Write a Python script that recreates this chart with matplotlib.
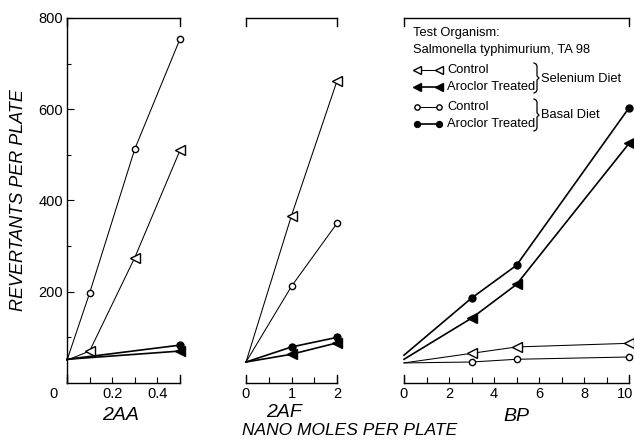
import matplotlib
matplotlib.use('Agg')
import matplotlib.pyplot as plt
from matplotlib.lines import Line2D
from matplotlib.transforms import ScaledTranslation

plt.rcParams['font.family'] = ['Liberation Sans', 'DejaVu Sans']

# ---------------- data ----------------
# 2AA panel
x_2aa = [0, 0.1, 0.3, 0.5]
x_2aa_aro = [0, 0.5]
aa_se_ctrl = [50, 70, 275, 510]
aa_basal_ctrl = [50, 197, 513, 754]
aa_se_aro = [52, 70]
aa_basal_aro = [52, 83]

# 2AF panel
x_2af = [0, 1, 2]
af_se_ctrl = [46, 367, 662]
af_basal_ctrl = [46, 212, 350]
af_se_aro = [46, 63, 88]
af_basal_aro = [46, 79, 100]

# BP panel
x_bp = [0, 3, 5, 10]
bp_se_ctrl = [44, 65, 79, 87]
bp_basal_ctrl = [44, 46, 52, 57]
bp_se_aro = [52, 142, 216, 525]
bp_basal_aro = [61, 186, 258, 603]

panel_names = ['2AA', '2AF', 'BP']
y_ticks = [200, 400, 600, 800]
y_labels = ['200', '400', '600', '800']

# ---------------- figure ----------------
W, H = 634, 444
fig = plt.figure(figsize=(W / 100, H / 100), dpi=100)


def rect(x0, x1, top=18, bottom=383):
    return [x0 / W, 1 - bottom / H, (x1 - x0) / W, (bottom - top) / H]


ax1 = fig.add_axes(rect(67, 180))
ax2 = fig.add_axes(rect(246, 337))
ax3 = fig.add_axes(rect(404, 629))

STY = {
    'se_ctrl': dict(marker='<', mfc='white', mec='black', ms=6.5, mew=1.0, lw=0.75, color='black'),
    'se_aro': dict(marker='<', mfc='black', mec='black', ms=6.5, mew=1.0, lw=1.2, color='black'),
    'basal_ctrl': dict(marker='o', mfc='white', mec='black', ms=4.5, mew=1.0, lw=0.75, color='black'),
    'basal_aro': dict(marker='o', mfc='black', mec='black', ms=5, mew=1.0, lw=1.2, color='black'),
}


def plot_series(ax, x, y, key):
    ax.plot(x, y, markevery=slice(1, None), clip_on=False, **STY[key])


plot_series(ax1, x_2aa, aa_basal_ctrl, 'basal_ctrl')
plot_series(ax1, x_2aa, aa_se_ctrl, 'se_ctrl')
plot_series(ax1, x_2aa_aro, aa_basal_aro, 'basal_aro')
plot_series(ax1, x_2aa_aro, aa_se_aro, 'se_aro')

plot_series(ax2, x_2af, af_se_ctrl, 'se_ctrl')
plot_series(ax2, x_2af, af_basal_ctrl, 'basal_ctrl')
plot_series(ax2, x_2af, af_basal_aro, 'basal_aro')
plot_series(ax2, x_2af, af_se_aro, 'se_aro')

plot_series(ax3, x_bp, bp_basal_aro, 'basal_aro')
plot_series(ax3, x_bp, bp_se_aro, 'se_aro')
plot_series(ax3, x_bp, bp_se_ctrl, 'se_ctrl')
plot_series(ax3, x_bp, bp_basal_ctrl, 'basal_ctrl')


def style(ax, xmax, majors, minors, yaxis=False):
    ax.set_xlim(0, xmax)
    ax.set_ylim(0, 800)
    ax.spines['right'].set_visible(False)
    ax.spines['left'].set_visible(yaxis)
    for s in ax.spines.values():
        s.set_linewidth(1.0)
    ax.set_xticks(majors)
    ax.set_xticks(minors, minor=True)
    ax.tick_params(axis='x', which='both', direction='in', length=4, width=0.8,
                   labelsize=10.5, pad=3)
    if yaxis:
        ax.set_yticks(y_ticks)
        ax.set_yticklabels(y_labels)
        ax.set_yticks(list(range(100, 800, 200)), minor=True)
        ax.tick_params(axis='y', which='major', direction='in', length=5, width=0.8,
                       labelsize=10.5, pad=3)
        ax.tick_params(axis='y', which='minor', direction='in', length=3, width=0.8)
    else:
        ax.set_yticks([])
    # taller end ticks (bottom up, top down)
    h = 8 / 365
    for xe in (0, xmax):
        ax.axvline(xe, ymin=0, ymax=h, color='black', lw=1.0, clip_on=False)
        ax.axvline(xe, ymin=1 - h, ymax=1, color='black', lw=1.0, clip_on=False)


style(ax1, 0.5, [0, 0.2, 0.4], [0.1, 0.3, 0.5], yaxis=True)
ax1.set_xticklabels(['0', '0.2', '0.4'])
style(ax2, 2, [0, 1, 2], [0.5, 1.5])
style(ax3, 10, [0, 2, 4, 6, 8, 10], [1, 3, 5, 7, 9])

# shift the origin label of panel 1 to the left
lab0 = ax1.xaxis.get_major_ticks()[0].label1
lab0.set_transform(lab0.get_transform() + ScaledTranslation(-10 / 72, 0, fig.dpi_scale_trans))
# keep the last BP label inside the picture
lab10 = ax3.xaxis.get_major_ticks()[-1].label1
lab10.set_transform(lab10.get_transform() + ScaledTranslation(-3 / 72, 0, fig.dpi_scale_trans))

# ---------------- texts ----------------
def ftxt(x, y, s, **kw):
    fig.text(x / W, 1 - y / H, s, **kw)


ftxt(19, 200, 'REVERTANTS PER PLATE', rotation=90, style='italic', fontsize=13,
     ha='center', va='center')
ftxt(121, 415, panel_names[0], style='italic', fontsize=14, ha='center', va='center')
ftxt(284, 412, panel_names[1], style='italic', fontsize=14, ha='center', va='center')
ftxt(516, 416, panel_names[2], style='italic', fontsize=14, ha='center', va='center')
ftxt(350, 430, 'NANO MOLES PER PLATE', style='italic', fontsize=12.5,
     ha='center', va='center')

# ---------------- legend ----------------
ftxt(413, 33, 'Test Organism:', fontsize=9.3, ha='left', va='center')
ftxt(413, 50, 'Salmonella typhimurium, TA 98', fontsize=9.3, ha='left', va='center')

rows = [(70, 'se_ctrl', 'Control'),
        (87, 'se_aro', 'Aroclor Treated'),
        (107, 'basal_ctrl', 'Control'),
        (124, 'basal_aro', 'Aroclor Treated')]
for y, key, lab in rows:
    kw = dict(STY[key])
    kw['ms'] = kw['ms'] * 0.85
    fig.add_artist(Line2D([417 / W, 439 / W], [1 - y / H, 1 - y / H],
                          transform=fig.transFigure, **kw))
    ftxt(447, y, lab, fontsize=9.3, ha='left', va='center')


def brace(x, top, bottom):
    mid = (top + bottom) / 2
    xs = [x, x + 2, x + 3, x + 3, x + 5, x + 3, x + 3, x + 2, x]
    ys = [top, top + 1, top + 3, mid - 2, mid, mid + 2, bottom - 3, bottom - 1, bottom]
    fig.add_artist(Line2D([v / W for v in xs], [1 - v / H for v in ys],
                          transform=fig.transFigure, color='black', lw=0.9))


brace(534, 63, 93)
brace(534, 99, 131)
ftxt(541, 79, 'Selenium Diet', fontsize=9.3, ha='left', va='center')
ftxt(541, 115, 'Basal Diet', fontsize=9.3, ha='left', va='center')

fig.savefig('out.png', dpi=100)
